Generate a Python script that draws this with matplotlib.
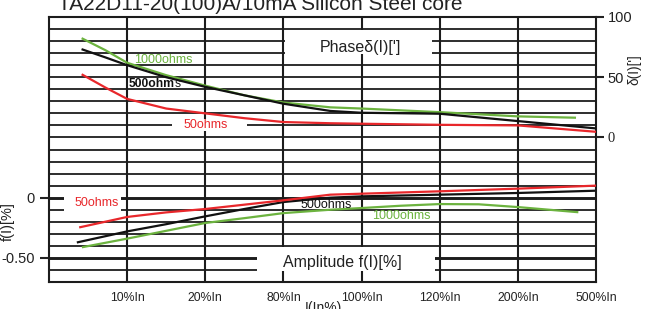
import matplotlib
matplotlib.use("Agg")
import matplotlib.pyplot as plt
from matplotlib.patches import Rectangle
import numpy as np

plt.rcParams["font.family"] = ["Liberation Sans", "DejaVu Sans"]

TITLE = "TA22D11-20(100)A/10mA Silicon Steel core"
x_ticks = [1, 2, 3, 4, 5, 6, 7]
x_labels = ["10%In", "20%In", "80%In", "100%In", "120%In", "200%In", "500%In"]

# phase error curves, x is position on the current scale (0 = left edge)
ph_x_1000 = [0.43, 0.72, 1, 1.5, 2, 2.5, 3, 3.6, 4, 5, 6, 6.73]
ph_1000 = [82, 72.5, 62, 51.7, 43, 35, 29, 25, 24, 21, 17.5, 16.4]
ph_x_500 = [0.43, 0.72, 1, 1.5, 2, 2.5, 3, 3.6, 4, 5, 6, 7]
ph_500 = [73, 66.5, 60, 50, 42, 35, 28, 22, 20.5, 19.7, 13.6, 7.5]
ph_x_50 = [0.43, 0.72, 1, 1.5, 2, 2.5, 3, 3.6, 4, 5, 6, 7]
ph_50 = [52, 41.5, 32, 24, 20, 16, 12.8, 11.8, 11.4, 10.5, 10, 4.7]

# amplitude error curves
amp_x_1000 = [0.435, 1, 1.5, 2, 2.5, 3, 3.6, 4, 4.5, 5, 5.5, 6, 6.76]
amp_1000 = [-0.41, -0.34, -0.275, -0.21, -0.17, -0.128, -0.1, -0.086, -0.067,
            -0.053, -0.055, -0.078, -0.12]
amp_x_500 = [0.37, 1, 1.5, 2, 2.5, 3, 3.6, 4, 5, 6, 7]
amp_500 = [-0.37, -0.28, -0.22, -0.155, -0.094, -0.036, 0.0, 0.011, 0.025, 0.039, 0.058]
amp_x_50 = [0.40, 1, 1.5, 2, 2.5, 3, 3.6, 4, 5, 6, 7]
amp_50 = [-0.245, -0.16, -0.122, -0.094, -0.058, -0.022, 0.025, 0.033, 0.053, 0.075, 0.10]

RED = "#e8272b"
GREEN = "#6cb33f"
BLACK = "#111111"
GRID = "#1c1c1c"

fig = plt.figure(figsize=(6.48, 3.09), dpi=100)
ax = fig.add_axes([49 / 648, 27 / 309, 547 / 648, 265 / 309])
ax.set_xlim(0, 7)
ax.set_ylim(-0.7, 1.5)

# dense ruled grid
for v in np.round(np.arange(-0.6, 1.45, 0.1), 2):
    lw = 2.1 if v in (0.0, -0.5) else 1.3
    ax.axhline(v, color=GRID, lw=lw, zorder=1)
for xv in x_ticks[:-1]:
    ax.axvline(xv, color=GRID, lw=1.5, zorder=1)
for s in ax.spines.values():
    s.set_linewidth(1.5)
    s.set_color(GRID)

ax.set_xticks(x_ticks)
ax.set_xticklabels(x_labels)
ax.tick_params(axis="x", length=0, pad=7, labelsize=8.8, colors="#222222")
ax.set_yticks([0, -0.5])
ax.set_yticklabels(["0", "-0.50"])
ax.tick_params(axis="y", length=6.5, width=1.5, pad=4, labelsize=10.5, colors="#222222")

ax2 = ax.twinx()
ax2.set_ylim(-120, 100)
ax2.set_yticks([0, 50, 100])
ax2.set_yticklabels(["0", "50", "100"])
ax2.get_yticklabels()[0].set_fontfamily("Liberation Serif")
ax2.tick_params(axis="y", length=5.8, width=1.5, pad=2.5, labelsize=10.5, colors="#222222")
for s in ax2.spines.values():
    s.set_visible(False)

# white label boxes that break the ruling
ax.add_patch(Rectangle((2.66, -0.608), 2.28, 0.2, facecolor="white", edgecolor="none", zorder=1.5))
ax.add_patch(Rectangle((0.19, -0.135), 0.73, 0.182, facecolor="white", edgecolor="none", zorder=1.5))
ax2.add_patch(Rectangle((3.02, 69), 1.88, 20.3, facecolor="white", edgecolor="none", zorder=1.5))
ax2.add_patch(Rectangle((1.57, 5), 0.96, 10, facecolor="white", edgecolor="none", zorder=1.5))

# curves
ax2.plot(ph_x_1000, ph_1000, color=GREEN, lw=1.6, zorder=2.5)
ax2.plot(ph_x_500, ph_500, color=BLACK, lw=1.6, zorder=2.6)
ax2.plot(ph_x_50, ph_50, color=RED, lw=1.6, zorder=2.5)
ax.plot(amp_x_1000, amp_1000, color=GREEN, lw=1.6, zorder=2.5)
ax.plot(amp_x_500, amp_500, color=BLACK, lw=1.6, zorder=2.5)
ax.plot(amp_x_50, amp_50, color=RED, lw=1.6, zorder=2.6)

# in-plot labels
ax2.text(3.98, 74.5, "Phaseδ(I)[']", ha="center", va="center", fontsize=11.5, color="#222222")
ax.text(3.75, -0.534, "Amplitude f(I)[%]", ha="center", va="center", fontsize=11.5, color="#222222")
ax2.text(1.465, 64, "1000ohms", ha="center", va="center", fontsize=9, color=GREEN)
t = ax2.text(1.02, 44, "500ohm", ha="left", va="center", fontsize=8.7,
             fontweight="bold", color=BLACK)
ax2.annotate("s", xy=(1, 0.5), xycoords=t, ha="left", va="center", fontsize=8.7, color=BLACK)
ax2.text(2.0, 10, "50ohms", ha="center", va="center", fontsize=9, color=RED)
ax.text(0.61, -0.042, "50ohms", ha="center", va="center", fontsize=9, color=RED)
ax.text(3.55, -0.058, "500ohms", ha="center", va="center", fontsize=9, color=BLACK)
ax.text(4.51, -0.15, "1000ohms", ha="center", va="center", fontsize=9, color=GREEN)

fig.text(260 / 648, 1 - 9.5 / 309, TITLE, ha="center", va="baseline", fontsize=15, color="#222222")
fig.text(7.5 / 648, 1 - 222 / 309, "f(I)[%]", rotation=90, ha="center", va="center",
         fontsize=10.5, color="#222222")
fig.text(634 / 648, 1 - 70 / 309, "δ(I)[']", rotation=90, ha="center", va="center",
         fontsize=9.8, color="#222222")
fig.text(323 / 648, 1 - 301 / 309, "I(In%)", ha="center", va="top", fontsize=10, color="#222222")

fig.savefig("out.png", dpi=100)
